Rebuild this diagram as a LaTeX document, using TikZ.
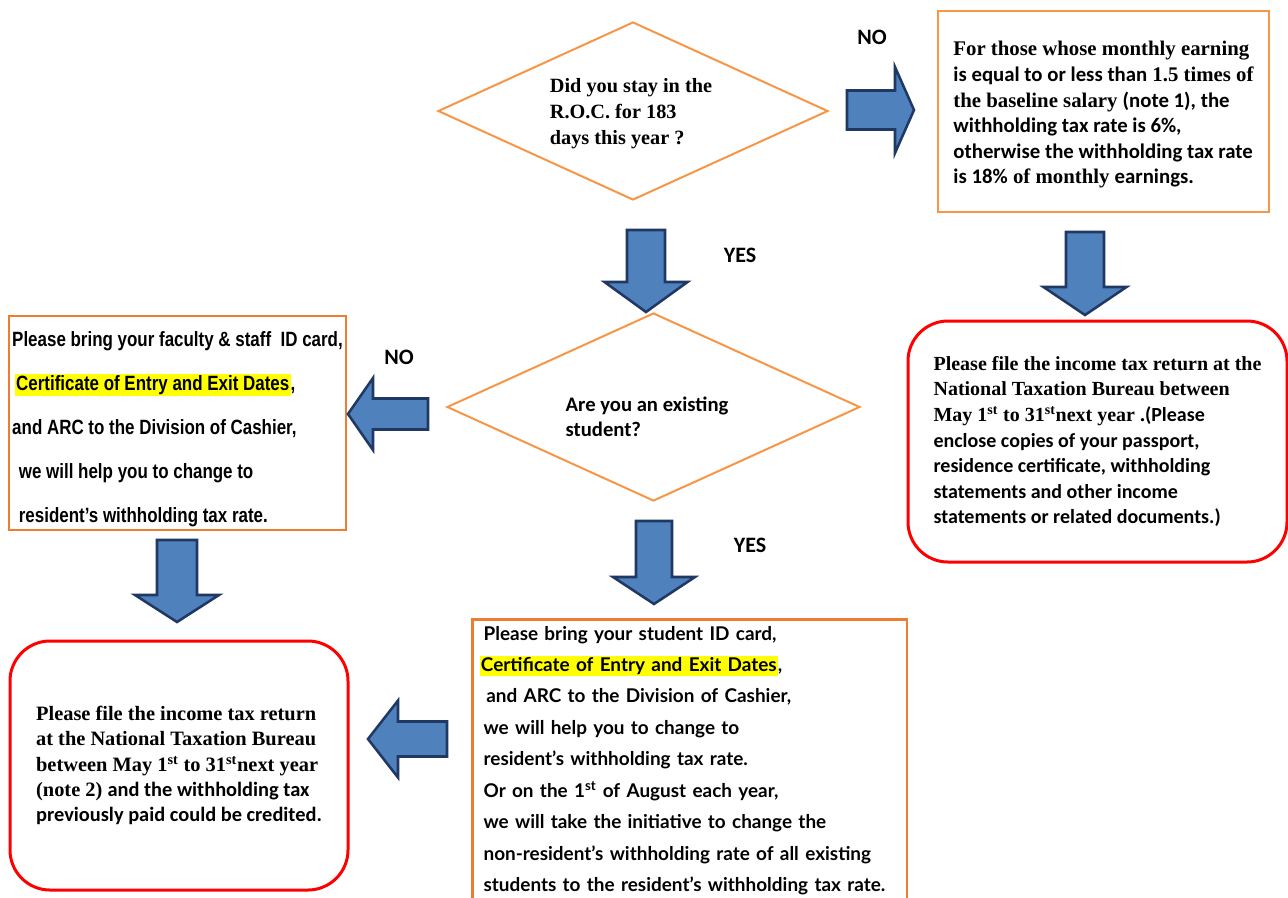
\documentclass[tikz,border=0pt]{standalone}
\usepackage{fontspec}
\usetikzlibrary{shapes.geometric}
\setmainfont{Liberation Serif}
\newfontfamily\calfont{Carlito}
\newfontfamily\narrowfont[FakeStretch=0.82]{Liberation Sans}
\newfontfamily\aptfont{Lato}
\definecolor{boxorange}{RGB}{247,150,70}
\definecolor{deeporange}{RGB}{237,125,49}
\definecolor{arrowblue}{RGB}{79,129,189}
\definecolor{arrowedge}{RGB}{32,56,100}
\definecolor{markyellow}{RGB}{255,255,0}
\setlength{\fboxsep}{1pt}
% tail, rotation, length, shaft length, shaft half width, head half width
\newcommand{\blockarrow}[6]{%
  \draw[blockarrow, shift={(#1)}, rotate=#2] (0,-#5) -- (#4,-#5) -- (#4,-#6) -- (#3,0) -- (#4,#6) -- (#4,#5) -- (0,#5) -- cycle;}

\begin{document}
\begin{tikzpicture}[x=0.75pt,y=-0.75pt]
          \tikzstyle{every node}=[font=\bfseries, inner sep=0pt]
          \tikzstyle{question}=[diamond, draw=boxorange, line width=1.5pt, aspect=2.2]
          \tikzstyle{infobox}=[rectangle, draw=boxorange, line width=1.9pt, align=left]
          \tikzstyle{actionbox}=[rectangle, draw=deeporange, line width=1.9pt, align=left]
          \tikzstyle{filebox}=[rectangle, rounded corners=30pt, draw=red, line width=2.25pt, align=left]
          \tikzstyle{answer}=[font=\calfont\bfseries\fontsize{16.5pt}{18pt}\selectfont]
          \tikzstyle{blockarrow}=[fill=arrowblue, draw=arrowedge, line width=1.9pt, line join=miter]
          \useasboundingbox (0,0) rectangle (1288,897);
          \fill[white] (0,0) rectangle (1288,897);
          \clip (0,0) rectangle (1288,897);

            % questions
            \node[question, minimum width=292.5pt, minimum height=133.5pt] (stay) at (633,111) {};
            \node[align=left, font=\bfseries\fontsize{15.2pt}{19.5pt}\selectfont] (stayq) at (631,114) {Did you stay in the\\R.O.C. for 183\\days this year ?};
            \node[question, minimum width=309.75pt, minimum height=141pt] (student) at (653.5,407) {};
            \node[align=left, font=\calfont\bfseries\fontsize{15.5pt}{18.75pt}\selectfont] (studentq) at (647,417) {Are you an existing\\student?};

            % answers
            \node[answer] (no1) at (872,37) {NO};
            \node[answer] (yes1) at (740,255) {YES};
            \node[answer] (no2) at (399,357) {NO};
            \node[answer] (yes2) at (750,545) {YES};

            % boxes
            \node[infobox, minimum width=248.25pt, minimum height=150.75pt, font=\bfseries\fontsize{15.6pt}{19.2pt}\selectfont] (nonres) at (1103.5,111.5) {\rule{0pt}{16pt}For those whose monthly earning\\
              {\calfont is equal to or less than} 1.5 times of\\
              the baseline salary {\calfont (note 1), the}\\
              {\calfont withholding tax rate is 6\%,}\\
              {\calfont otherwise the withholding tax rate}\\
              {\calfont is 18\%} of monthly {\calfont earnings.}};
            \node[filebox, minimum width=284.25pt, minimum height=180.75pt, font=\bfseries\fontsize{15pt}{19.2pt}\selectfont] (filenext) at (1097.5,441.5) {Please file the income tax return at the\\
              National Taxation Bureau between\\
              May 1\textsuperscript{st} to 31\textsuperscript{st}next year .{\calfont(Please}\\
              {\calfont enclose copies of your passport,}\\
              {\calfont residence certificate, withholding}\\
              {\calfont statements and other income}\\
              {\calfont statements or related documents.)}};
            \node[actionbox, minimum width=252.75pt, minimum height=160.5pt, font=\narrowfont\bfseries\fontsize{15.5pt}{33pt}\selectfont] (staffbox) at (177.5,423) {\rule{0pt}{20pt}Please bring your faculty \& staff\ \ ID card,\\
              \hspace{2pt}\colorbox{markyellow}{Certificate of Entry and Exit Dates},\\
              and ARC to the Division of Cashier,\\
              \hspace{5pt}we will help you to change to\\
              \hspace{5pt}resident’s withholding tax rate.};
            \node[filebox, minimum width=253.5pt, minimum height=186.75pt, font=\bfseries\fontsize{15.3pt}{19pt}\selectfont] (fileprev) at (179,765.5) {Please file the income tax return\\
              at the National Taxation Bureau\\
              between May 1\textsuperscript{st} to 31\textsuperscript{st}next year\\
              (note 2) {\calfont and the withholding tax}\\
              {\calfont previously paid could be credited.}};
            \node[actionbox, anchor=north west, minimum width=325.5pt, text width=309pt, inner xsep=8.5pt, inner ysep=5pt, font=\aptfont\bfseries\fontsize{14.2pt}{23.6pt}\selectfont] (studentbox) at (471,618) {Please bring your student ID card,\\
              \hspace{-3pt}\colorbox{markyellow}{Certificate of Entry and Exit Dates},\\
              \hspace{2pt}and ARC to the Division of Cashier,\\
              we will help you to change to\\
              resident’s withholding tax rate.\\
              Or on the 1\textsuperscript{st} of August each year,\\
              we will take the initiative to change the\\
              non-resident’s withholding rate of all existing\\
              students to the resident’s withholding tax rate.};

            % block arrows
            \blockarrow{847,110}{0}{67}{48}{19.5}{43}
            \blockarrow{1085,232}{-90}{83}{55}{19}{41.5}
            \blockarrow{646,230}{-90}{82}{52}{19}{41.5}
            \blockarrow{428,414}{180}{80}{55}{15.5}{36}
            \blockarrow{177,540}{-90}{82}{55}{20}{42}
            \blockarrow{654,521}{-90}{83}{56}{18}{41}
            \blockarrow{447,739}{180}{79}{49}{17.5}{38.5}
        \end{tikzpicture}
\end{document}
